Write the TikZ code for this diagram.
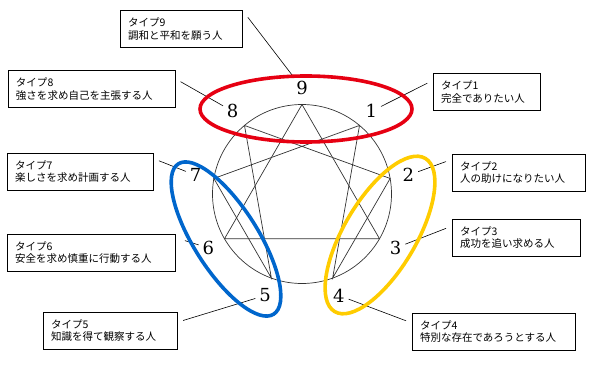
\documentclass[tikz,border=0pt]{standalone}
\usepackage{fontspec}
\usetikzlibrary{calc}
\newfontfamily\jpfont{Noto Sans CJK JP}
\newfontfamily\numfont{DejaVu Serif}
\definecolor{ennred}{HTML}{E60012}
\definecolor{ennblue}{HTML}{0066CC}
\definecolor{ennyellow}{HTML}{FFCC00}

\begin{document}
\begin{tikzpicture}[x=1pt, y=1pt,
    typebox/.style={draw, line width=0.7pt, fill=white, inner xsep=8pt, inner ysep=3pt,
        minimum height=37pt, align=left, font=\jpfont\fontsize{10.5}{12.5}\selectfont},
    num/.style={inner sep=1pt, font=\numfont\fontsize{18}{18}\selectfont},
    leader/.style={line width=0.6pt, shorten <=6pt, shorten >=3pt},
    figline/.style={line width=0.7pt, black!80},
    group/.style={line width=3.6pt}]
   \useasboundingbox (0,-369) rectangle (607,0);

   % 円と九つの点
   \coordinate (c) at (302,-194);
   \draw[figline] (c) circle (89.5);
   \foreach \k in {0,...,8}
     \coordinate (v\k) at ($(c)+({90-40*\k}:89.5)$);

   % 三角形と六角形の線
   \draw[figline] (v0) -- (v3) -- (v6) -- cycle;
   \draw[figline] (v1) -- (v4) -- (v2) -- (v8) -- (v5) -- (v7) -- cycle;

   % 番号
   \node[num] (n9) at ($(c)+(90:106)$) {9};
   \foreach \k in {1,...,8}
     \node[num] (n\k) at ($(c)+({90-40*\k}:108)$) {\k};

   % 各タイプの説明
   \node[typebox, text width=106pt] (t9) at (181,-29)    {タイプ9\\調和と平和を願う人};
   \node[typebox, text width=151pt] (t8) at (91.5,-89)   {タイプ8\\強さを求め自己を主張する人};
   \node[typebox, text width=91pt]  (t1) at (486.5,-92)  {タイプ1\\完全でありたい人};
   \node[typebox, text width=130pt] (t7) at (80,-171.5)  {タイプ7\\楽しさを求め計画する人};
   \node[typebox, text width=117pt] (t2) at (518.5,-172.5) {タイプ2\\人の助けになりたい人};
   \node[typebox, text width=152pt] (t6) at (91,-252.5)  {タイプ6\\安全を求め慎重に行動する人};
   \node[typebox, text width=112pt] (t3) at (516,-237.5) {タイプ3\\成功を追い求める人};
   \node[typebox, text width=118pt] (t5) at (110,-330.5) {タイプ5\\知識を得て観察する人};
   \node[typebox, text width=147pt] (t4) at (493.5,-331.5) {タイプ4\\特別な存在であろうとする人};

   % 引き出し線
   \draw[leader, shorten <=9pt] (t9.north east) -- (n9);
   \draw[leader] (t8.7) -- (n8);
   \draw[leader] (t1.168) -- (n1);
   \draw[leader] (t7.10) -- (n7);
   \draw[leader] (t2.169) -- (n2);
   \draw[leader, shorten <=10pt] (t6.10) -- (n6);
   \draw[leader] (t3.170) -- (n3);
   \draw[leader] (t5.7) -- (n5);
   \draw[leader] (t4.174) -- (n4);

   % グループの楕円
   \draw[group, ennred] (306,-109) ellipse [x radius=106, y radius=33];
   \draw[group, ennblue, rotate around={-57.6:(226,-239)}] (226,-239) ellipse [x radius=89, y radius=32];
   \draw[group, ennyellow, rotate around={59.4:(380,-235)}] (380,-235) ellipse [x radius=89, y radius=36];
\end{tikzpicture}
\end{document}
